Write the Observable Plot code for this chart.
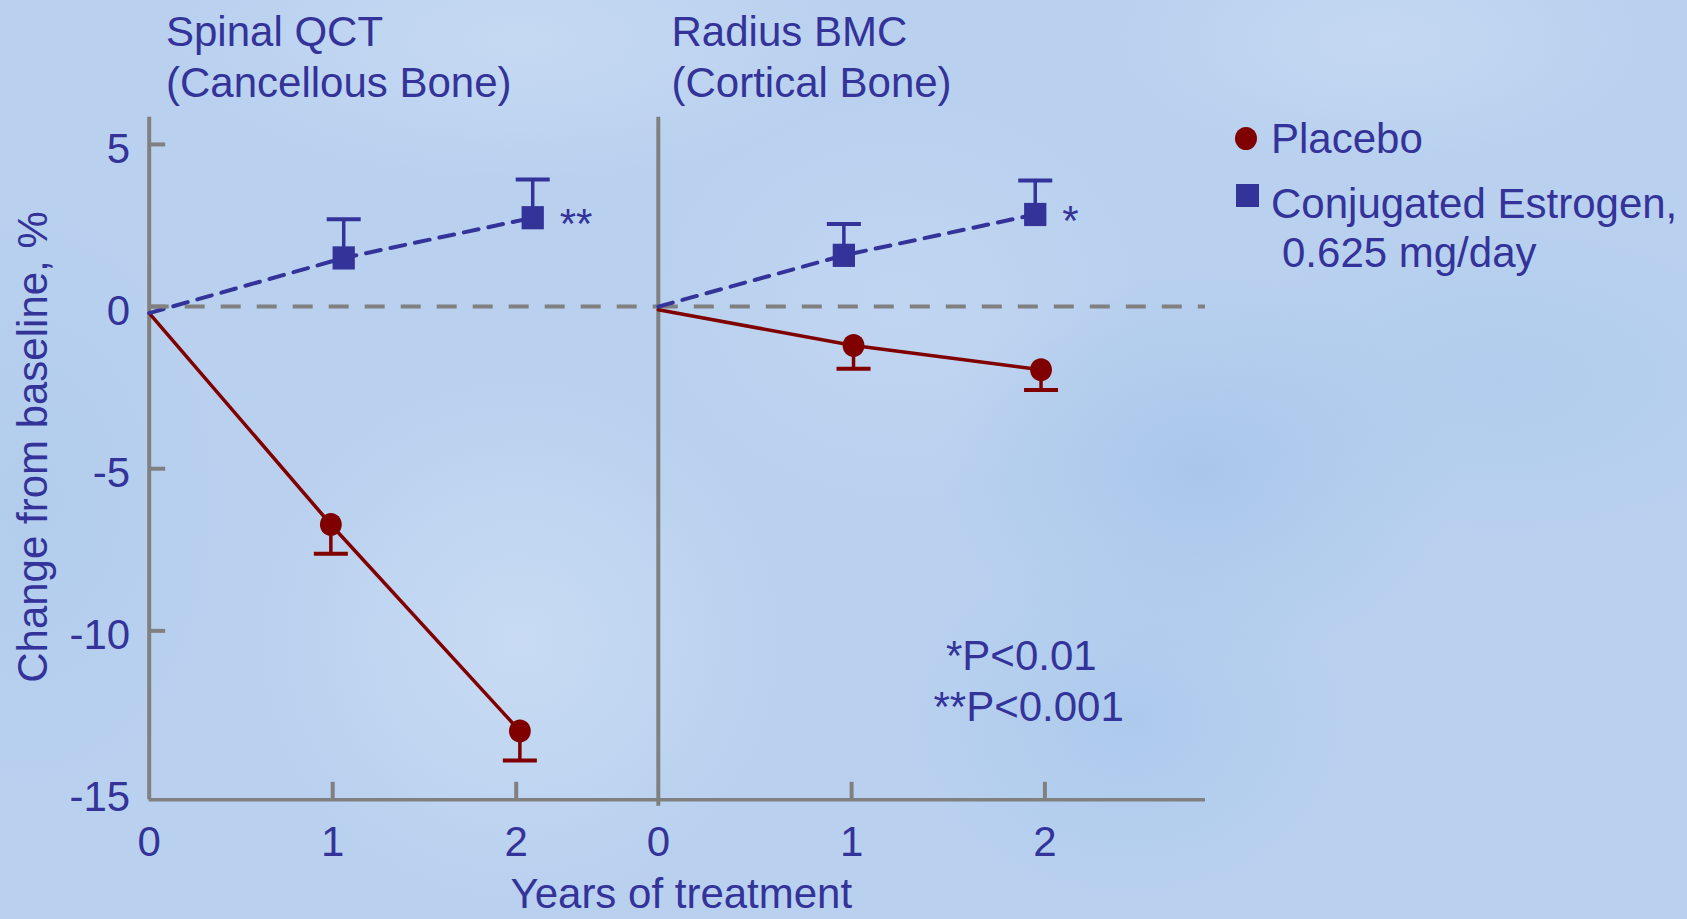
<!DOCTYPE html>
<html>
<head>
<meta charset="utf-8">
<script src="https://cdn.jsdelivr.net/npm/d3@7"></script>
<script src="https://cdn.jsdelivr.net/npm/@observablehq/plot@0.6"></script>
<style>
  html, body { margin: 0; padding: 0; }
  body { width: 1687px; height: 919px; overflow: hidden; font-family: "Liberation Sans", Arial, sans-serif; color: #333399; }
  #wrap { position: relative; width: 1687px; height: 919px; overflow: hidden;
    background:
      radial-gradient(ellipse 260px 200px at 1200px 470px, rgba(168,198,234,0.9), rgba(168,198,234,0) 100%),
      radial-gradient(ellipse 220px 180px at 1130px 720px, rgba(170,200,236,0.8), rgba(170,200,236,0) 100%),
      radial-gradient(ellipse 300px 160px at 1500px 380px, rgba(175,203,236,0.8), rgba(175,203,236,0) 100%),
      radial-gradient(ellipse 260px 260px at 520px 640px, rgba(202,220,244,0.9), rgba(202,220,244,0) 100%),
      radial-gradient(ellipse 340px 140px at 520px 40px, rgba(200,218,243,0.9), rgba(200,218,243,0) 100%),
      radial-gradient(ellipse 260px 120px at 1380px 40px, rgba(200,218,243,0.8), rgba(200,218,243,0) 100%),
      radial-gradient(ellipse 240px 200px at 900px 300px, rgba(196,215,242,0.7), rgba(196,215,242,0) 100%),
      radial-gradient(ellipse 200px 300px at 30px 500px, rgba(176,203,236,0.7), rgba(176,203,236,0) 100%),
      #b9d1ef; }
  .t { position: absolute; font-size: 42px; line-height: 50px; white-space: nowrap; color: #333399; }
  svg.plotsvg { position: absolute; left: 0; top: 0; }
</style>
</head>
<body>
<div id="wrap"></div>
<script>
// ---------- data ----------
const panelTitles = [["Spinal QCT", "(Cancellous Bone)"], ["Radius BMC", "(Cortical Bone)"]];
const seriesNames = ["Placebo", "Conjugated Estrogen,", "0.625 mg/day"];
const yTicks = [5, 0, -5, -10, -15];
const xTicks = [0, 1, 2];
const yAxisTitle = "Change from baseline, %";
const xAxisTitle = "Years of treatment";
const pNotes = ["*P<0.01", "**P<0.001"];

// Spinal QCT (cancellous bone)
const spinalPlaceboX   = [0, 0.99, 2.02];
const spinalPlaceboY   = [-0.2, -6.72, -13.09];
const spinalPlaceboErr = [null, -7.62, -14.0];
const spinalEstrogenX   = [0, 1.06, 2.09];
const spinalEstrogenY   = [-0.2, 1.5, 2.74];
const spinalEstrogenErr = [null, 2.69, 3.92];
const spinalSig = ["", "", "**"];

// Radius BMC (cortical bone)
const radiusPlaceboX   = [0, 1.01, 1.98];
const radiusPlaceboY   = [-0.1, -1.2, -1.95];
const radiusPlaceboErr = [null, -1.92, -2.57];
const radiusEstrogenX   = [0, 0.96, 1.95];
const radiusEstrogenY   = [0, 1.58, 2.84];
const radiusEstrogenErr = [null, 2.55, 3.89];
const radiusSig = ["", "", "*"];

// ---------- styling ----------
const RED = "#800000", BLUE = "#333399", GRAY = "#808080";
const FONT = "Liberation Sans, Arial, sans-serif";
const W = 1687, H = 919;
const yDomain = [-15.21, 5.84];
const mTop = 116.7, mBottom = H - 799.3;

const hLine = {draw(ctx, size) { const h = Math.sqrt(size / Math.PI); ctx.moveTo(-h, 0); ctx.lineTo(h, 0); }};
const vLine = {draw(ctx, size) { const h = Math.sqrt(size / Math.PI); ctx.moveTo(0, -h); ctx.lineTo(0, h); }};
const rectSym = {draw(ctx, size) { const h = Math.sqrt(size / Math.PI), w = h * 0.96; ctx.rect(-w, -h, 2 * w, 2 * h); }};
const ellSym = {draw(ctx, size) {
  const ry = Math.sqrt(size / Math.PI), rx = ry * 0.95, k = 0.5523;
  ctx.moveTo(rx, 0);
  ctx.bezierCurveTo(rx, ry * k, rx * k, ry, 0, ry);
  ctx.bezierCurveTo(-rx * k, ry, -rx, ry * k, -rx, 0);
  ctx.bezierCurveTo(-rx, -ry * k, -rx * k, -ry, 0, -ry);
  ctx.bezierCurveTo(rx * k, -ry, rx, -ry * k, rx, 0);
  ctx.closePath();
}};

function rows(xs, ys, errs, sig) {
  return xs.map((x, i) => ({x, y: ys[i], err: errs[i], sig: sig ? sig[i] : ""}));
}

function panel({xDomain, marginLeft, marginRight, placebo, estrogen, showY, axisBelow}) {
  const pts = d => d.filter(r => r.err != null);
  const marks = [
    // zero reference (dashed)
    Plot.ruleY([0], {stroke: GRAY, strokeWidth: 4, strokeDasharray: "20,16"}),
    // x axis line
    Plot.ruleY([yDomain[0]], {stroke: GRAY, strokeWidth: 3.5}),
    // vertical axis line
    Plot.ruleX([0], {y1: axisBelow ? yDomain[0] - 0.2 : yDomain[0], y2: yDomain[1], stroke: GRAY, strokeWidth: 4}),
    // x ticks (inward)
    Plot.dot(xTicks.filter(v => v > 0), {x: d => d, y: yDomain[0], symbol: vLine, r: 9, dy: -9, stroke: GRAY, strokeWidth: 4, fill: "none"}),
    Plot.axisX(xTicks, {tickSize: 0, tickPadding: 26, tickFormat: d => String(d), fontSize: 42, fill: BLUE, label: null}),
    // lines
    Plot.line(placebo, {x: "x", y: "y", stroke: RED, strokeWidth: 3.5}),
    Plot.line(estrogen, {x: "x", y: "y", stroke: BLUE, strokeWidth: 4, strokeDasharray: "15,10"}),
    // error bars
    Plot.ruleX(pts(placebo), {x: "x", y1: "y", y2: "err", stroke: RED, strokeWidth: 3.5}),
    Plot.dot(pts(placebo), {x: "x", y: "err", symbol: hLine, r: 17, stroke: RED, strokeWidth: 4, fill: "none"}),
    Plot.ruleX(pts(estrogen), {x: "x", y1: "y", y2: "err", stroke: BLUE, strokeWidth: 3.5}),
    Plot.dot(pts(estrogen), {x: "x", y: "err", symbol: hLine, r: 17, stroke: BLUE, strokeWidth: 4, fill: "none"}),
    // markers
    Plot.dot(pts(placebo), {x: "x", y: "y", symbol: ellSym, r: 11.5, fill: RED, stroke: "none"}),
    Plot.dot(pts(estrogen), {x: "x", y: "y", symbol: rectSym, r: 11.6, fill: BLUE, stroke: "none"}),
    // significance marks
    Plot.text(estrogen.filter(r => r.sig), {x: "x", y: "y", text: "sig", dx: 27, dy: 7, textAnchor: "start", fontSize: 42, fill: BLUE})
  ];
  if (showY) {
    marks.push(
      Plot.dot(yTicks.filter(v => v > yDomain[0] + 0.5), {x: 0, y: d => d, symbol: hLine, r: 8, dx: 8, stroke: GRAY, strokeWidth: 4, fill: "none"}),
      Plot.axisY(yTicks, {tickSize: 0, tickPadding: 19, tickFormat: d => String(d), fontSize: 42, fill: BLUE, dy: 5, label: null})
    );
  }
  const svg = Plot.plot({
    width: W, height: H,
    marginLeft, marginRight, marginTop: mTop, marginBottom: mBottom,
    x: {domain: xDomain, axis: null},
    y: {domain: yDomain, axis: null},
    style: {background: "transparent", overflow: "visible", fontFamily: FONT},
    marks
  });
  svg.classList.add("plotsvg");
  return svg;
}

const wrap = document.getElementById("wrap");

wrap.appendChild(panel({
  xDomain: [0, (657.8 - 148.7) / 183.5],
  marginLeft: 148.7, marginRight: W - 657.8,
  placebo: rows(spinalPlaceboX, spinalPlaceboY, spinalPlaceboErr),
  estrogen: rows(spinalEstrogenX, spinalEstrogenY, spinalEstrogenErr, spinalSig),
  showY: true, axisBelow: false
}));
wrap.appendChild(panel({
  xDomain: [0, (1205 - 657.8) / 193.3],
  marginLeft: 657.8, marginRight: W - 1205,
  placebo: rows(radiusPlaceboX, radiusPlaceboY, radiusPlaceboErr),
  estrogen: rows(radiusEstrogenX, radiusEstrogenY, radiusEstrogenErr, radiusSig),
  showY: false, axisBelow: true
}));

// ---------- text (titles, legend, notes) ----------
function addText(txt, left, capCenterY, lh) {
  const L = lh || 50;
  const d = document.createElement("div");
  d.className = "t";
  d.textContent = txt;
  d.style.left = left + "px";
  d.style.lineHeight = L + "px";
  d.style.top = (capCenterY - L / 2) + "px";
  wrap.appendChild(d);
  return d;
}
addText(panelTitles[0][0], 166, 31.7);
addText(panelTitles[0][1], 166, 83.3);
addText(panelTitles[1][0], 671.5, 31.7);
addText(panelTitles[1][1], 671.5, 83.3);

// legend
function swatch(cx, cy, w, h, color, round) {
  const s = document.createElement("div");
  Object.assign(s.style, {position: "absolute", left: (cx - w / 2) + "px", top: (cy - h / 2) + "px",
    width: w + "px", height: h + "px", background: color, borderRadius: round ? "50%" : "0"});
  wrap.appendChild(s);
}
swatch(1246, 138, 22, 23, RED, true);
swatch(1247.5, 195.7, 22.5, 23.3, BLUE, false);
addText(seriesNames[0], 1271, 138.7);
addText(seriesNames[1], 1271, 203.7);
addText(seriesNames[2], 1282, 253.3);

// p-value notes
addText(pNotes[0], 946, 655.8);
addText(pNotes[1], 933.5, 706.7);

// axis titles
addText(xAxisTitle, 510.5, 894, 34);
const yt = addText(yAxisTitle, 33, 447);
Object.assign(yt.style, {left: "33px", top: "447px", transform: "translate(-50%, -50%) rotate(-90deg)"});
</script>
</body>
</html>
